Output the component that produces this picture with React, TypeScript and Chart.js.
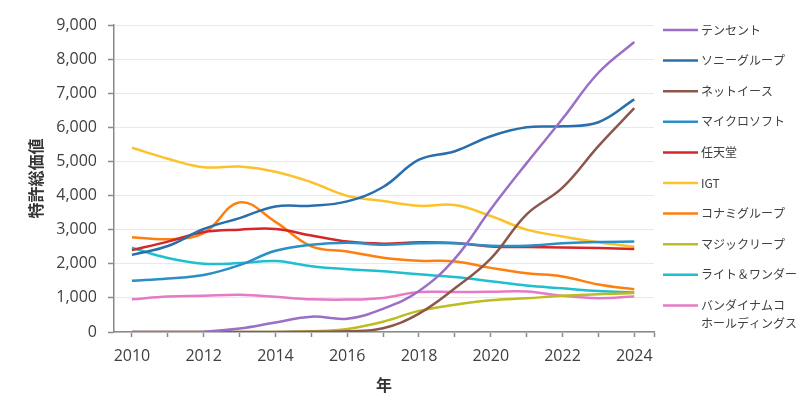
import { useEffect, useRef } from "react";
import { Chart, registerables } from "chart.js";

Chart.register(...registerables);

const YEARS = [2010, 2011, 2012, 2013, 2014, 2015, 2016, 2017, 2018, 2019, 2020, 2021, 2022, 2023, 2024];

const SERIES_NAMES = [
  "テンセント",
  "ソニーグループ",
  "ネットイース",
  "マイクロソフト",
  "任天堂",
  "IGT",
  "コナミグループ",
  "マジックリープ",
  "ライト＆ワンダー",
  "バンダイナムコ\nホールディングス",
];

const TENCENT = [0, 0, 10, 100, 280, 450, 390, 680, 1200, 2150, 3600, 4950, 6250, 7600, 8500];
const SONY = [2260, 2520, 3020, 3340, 3680, 3700, 3830, 4250, 5050, 5300, 5740, 6000, 6030, 6150, 6820];
const NETEASE = [0, 0, 0, 0, 0, 10, 20, 110, 540, 1280, 2150, 3450, 4230, 5450, 6560];
const MICROSOFT = [1500, 1570, 1670, 1960, 2380, 2560, 2620, 2560, 2600, 2600, 2530, 2530, 2600, 2640, 2650];
const NINTENDO = [2400, 2650, 2930, 3000, 3020, 2830, 2650, 2590, 2630, 2610, 2510, 2490, 2480, 2460, 2430];
const IGT = [5400, 5080, 4830, 4850, 4700, 4390, 3990, 3840, 3700, 3720, 3400, 3000, 2800, 2630, 2500];
const KONAMI = [2780, 2720, 2900, 3800, 3230, 2510, 2360, 2180, 2090, 2070, 1880, 1720, 1630, 1390, 1250];
const MAGICLEAP = [0, 0, 0, 0, 0, 20, 90, 300, 620, 800, 930, 990, 1060, 1110, 1140];
const LIGHTWONDER = [2470, 2170, 2000, 2020, 2080, 1930, 1840, 1780, 1690, 1610, 1490, 1360, 1280, 1200, 1160];
const BANDAI = [960, 1040, 1060, 1090, 1030, 960, 950, 1000, 1170, 1170, 1180, 1190, 1060, 990, 1040];

const SERIES_VALUES = [TENCENT, SONY, NETEASE, MICROSOFT, NINTENDO, IGT, KONAMI, MAGICLEAP, LIGHTWONDER, BANDAI];

const X_MIN = 2009.5;
const X_MAX = 2024.55;

const COLORS = [
  "#9b6fc6",
  "#2a6fab",
  "#8c564b",
  "#2a8fc6",
  "#d62728",
  "#fbc22b",
  "#ff7f0e",
  "#bcbd22",
  "#20bfd0",
  "#e67ac6",
];

const Y_TITLE = "特許総価値";
const X_TITLE = "年";

const CJK = '"Noto Sans CJK JP", "Noto Sans", sans-serif';
const LATIN = '"Open Sans", "Noto Sans", sans-serif';

const sideLegend = {
  id: "sideLegend",
  afterDraw(chart: any) {
    const { ctx, chartArea } = chart;
    const x0 = chartArea.right + 9;
    const lineLen = 35;
    const top = 30;
    const step = 30.6;
    ctx.save();
    ctx.font = `12px ${CJK}`;
    ctx.fillStyle = "#404040";
    ctx.textBaseline = "middle";
    ctx.textAlign = "left";
    chart.data.datasets.forEach((ds: any, i: number) => {
      const y = top + i * step;
      ctx.strokeStyle = ds.borderColor;
      ctx.lineWidth = 2.5;
      ctx.beginPath();
      ctx.moveTo(x0, y);
      ctx.lineTo(x0 + lineLen, y);
      ctx.stroke();
      const lines = String(ds.label).split("\n");
      lines.forEach((t: string, k: number) => {
        ctx.fillText(t, x0 + lineLen + 3, y + k * 18);
      });
    });
    ctx.restore();
  },
};

export default function App() {
  const ref = useRef<HTMLCanvasElement | null>(null);
  useEffect(() => {
    if (!ref.current) return;
    const chart = new Chart(ref.current, {
      type: "line",
      data: {
        datasets: SERIES_VALUES.map((vals, i) => ({
          label: SERIES_NAMES[i],
          data: YEARS.map((yr, j) => ({ x: yr, y: vals[j] })),
          borderColor: COLORS[i],
          backgroundColor: COLORS[i],
          borderWidth: 2.5,
          pointRadius: 0,
          tension: 0.4,
          fill: false,
        })),
      },
      plugins: [sideLegend],
      options: {
        animation: false,
        responsive: true,
        maintainAspectRatio: false,
        layout: { padding: { left: 0, right: 146, top: 25, bottom: 0 } },
        plugins: { legend: { display: false }, tooltip: { enabled: false } },
        scales: {
          x: {
            type: "linear",
            min: X_MIN,
            max: X_MAX,
            afterBuildTicks(scale: any) {
              scale.ticks = [...YEARS, X_MAX].map((v) => ({ value: v }));
            },
            afterFit(scale: any) {
              scale.height = 80;
            },
            border: { display: true, color: "#8a8a8a", width: 1.5 },
            grid: {
              drawOnChartArea: false,
              drawTicks: true,
              tickLength: 5,
              tickColor: "#8a8a8a",
              tickWidth: 1.5,
            },
            ticks: {
              autoSkip: false,
              maxRotation: 0,
              padding: 10,
              color: "#404040",
              font: { family: LATIN, size: 16 },
              callback: (v: any) => (Number.isInteger(v) && v % 2 === 0 ? String(v) : ""),
            },
            title: {
              display: true,
              text: X_TITLE,
              color: "#333333",
              font: { family: CJK, size: 16, weight: "bold" },
              padding: { top: 0, bottom: 17 },
            },
          },
          y: {
            min: 0,
            max: 9000,
            afterFit(scale: any) {
              scale.width = 114;
            },
            border: { display: true, color: "#8a8a8a", width: 1.5 },
            grid: {
              color: "#e9e9e9",
              lineWidth: 1,
              drawTicks: true,
              tickLength: 6,
              tickColor: "#8a8a8a",
              tickWidth: 1.5,
            },
            ticks: {
              stepSize: 1000,
              padding: 11,
              color: "#404040",
              font: { family: LATIN, size: 16 },
              callback: (v: any) => Number(v).toLocaleString("en-US"),
            },
            title: {
              display: true,
              text: Y_TITLE,
              color: "#333333",
              font: { family: CJK, size: 16, weight: "bold" },
              padding: { top: 26, bottom: 0 },
            },
          },
        },
      },
    });
    return () => chart.destroy();
  }, []);
  return (
    <div style={{ position: "fixed", left: 0, top: 0, width: 800, height: 412, background: "#fff" }}>
      <canvas ref={ref} />
    </div>
  );
}
